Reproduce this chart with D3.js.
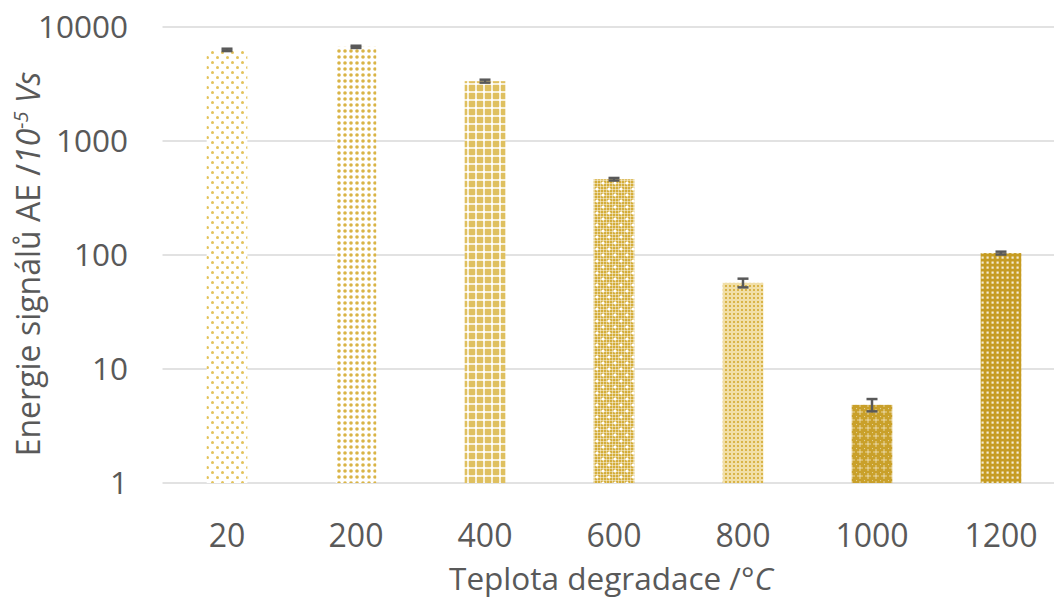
<!DOCTYPE html>
<html><head><meta charset="utf-8">
<script src="https://cdn.jsdelivr.net/npm/d3@7/dist/d3.min.js"></script>
<style>body{margin:0;background:#fff}svg{display:block}</style>
</head><body>
<svg id="c" width="1054" height="603"></svg>
<script>
const categories = ["20","200","400","600","800","1000","1200"];
const values = [6300, 6700, 3350, 462, 57, 4.85, 104];
const errors = [150, 150, 100, 12, 5, 0.6, 3];
const yTicks = [1, 10, 100, 1000, 10000];

const svg = d3.select("#c");
const W = 1054, H = 603;
const m = {left:162.5, right:1065.5, top:27, bottom:483};
const font = "'Open Sans', 'Liberation Sans', sans-serif";
const textCol = "#595959";

const x = d3.scaleBand().domain(categories).range([m.left, m.right]).paddingInner(0.685).paddingOuter(0.3425);
const y = d3.scaleLog().domain([1, 10000]).range([m.bottom, m.top]);

// patterns
const defs = svg.append("defs");
function pat(id, size, build){
  const p = defs.append("pattern").attr("id", id).attr("patternUnits","userSpaceOnUse")
    .attr("width", size).attr("height", size);
  build(p);
}
pat("p0", 10, p=>{
  p.append("rect").attr("width",10).attr("height",10).attr("fill","#fff");
  [[2.5,2.5],[7.5,7.5]].forEach(([a,b])=>p.append("circle").attr("cx",a).attr("cy",b).attr("r",1.5).attr("fill","#e3c25a"));
});
pat("p1", 6, p=>{
  p.append("rect").attr("width",6).attr("height",6).attr("fill","#fff");
  p.append("circle").attr("cx",3).attr("cy",3).attr("r",1.8).attr("fill","#d9b446");
});
pat("p2", 8, p=>{
  p.append("rect").attr("width",8).attr("height",8).attr("fill","#dfc060");
  p.append("rect").attr("x",3).attr("y",0).attr("width",2).attr("height",8).attr("fill","#fff").attr("opacity",0.75);
  p.append("rect").attr("x",0).attr("y",3).attr("width",8).attr("height",2).attr("fill","#fff").attr("opacity",0.75);
  p.append("circle").attr("cx",4).attr("cy",4).attr("r",1.4).attr("fill","#fff");
});
pat("p3", 12, p=>{
  p.append("rect").attr("width",12).attr("height",12).attr("fill","#d4ad3a");
  for(let i=0;i<12;i+=3){
    p.append("rect").attr("x",i).attr("y",0).attr("width",1).attr("height",12).attr("fill","#fff").attr("opacity",0.45);
    p.append("rect").attr("x",0).attr("y",i).attr("width",12).attr("height",1).attr("fill","#fff").attr("opacity",0.45);
  }
  [[3,3],[9,9]].forEach(([a,b])=>p.append("circle").attr("cx",a).attr("cy",b).attr("r",1.6).attr("fill","#fff"));
});
pat("p4", 4, p=>{
  p.append("rect").attr("width",4).attr("height",4).attr("fill","#f1dfa8");
  p.append("rect").attr("x",1).attr("y",1).attr("width",2).attr("height",2).attr("fill","#d9b448");
});
pat("p5", 8, p=>{
  p.append("rect").attr("width",8).attr("height",8).attr("fill","#c9a02a");
  p.append("rect").attr("x",3.5).attr("y",1).attr("width",1).attr("height",6).attr("fill","#fff").attr("opacity",0.55);
  p.append("rect").attr("x",1).attr("y",3.5).attr("width",6).attr("height",1).attr("fill","#fff").attr("opacity",0.55);
  p.append("circle").attr("cx",0).attr("cy",0).attr("r",1.2).attr("fill","#fff").attr("opacity",0.5);
});
pat("p6", 5, p=>{
  p.append("rect").attr("width",5).attr("height",5).attr("fill","#c69c22");
  p.append("rect").attr("x",1.5).attr("y",1.5).attr("width",2.2).attr("height",2.2).attr("fill","#fff").attr("opacity",0.8);
});

// gridlines
svg.append("g").selectAll("line").data(yTicks).join("line")
  .attr("x1", m.left).attr("x2", W).attr("y1", d=>y(d)).attr("y2", d=>y(d))
  .attr("stroke", "#d9d9d9").attr("stroke-width", 1.5);

// bars
svg.append("g").selectAll("rect").data(values).join("rect")
  .attr("x", (d,i)=>x(categories[i])).attr("width", x.bandwidth())
  .attr("y", d=>y(d)).attr("height", d=>y(1)-y(d))
  .attr("fill", (d,i)=>`url(#p${i})`);

// error bars
const eb = svg.append("g").attr("stroke", "#595959").attr("stroke-width", 2.5);
values.forEach((v,i)=>{
  const cx = x(categories[i]) + x.bandwidth()/2;
  const y1 = y(v+errors[i]), y2 = y(v-errors[i]);
  eb.append("line").attr("x1",cx).attr("x2",cx).attr("y1",y1).attr("y2",y2);
  eb.append("line").attr("x1",cx-5.5).attr("x2",cx+5.5).attr("y1",y1).attr("y2",y1);
  eb.append("line").attr("x1",cx-5.5).attr("x2",cx+5.5).attr("y1",y2).attr("y2",y2);
});

// y tick labels
svg.append("g").selectAll("text").data(yTicks).join("text")
  .attr("x", 128).attr("y", d=>y(d)).attr("dy","0.36em")
  .attr("text-anchor","end").attr("font-family",font).attr("font-size",31.5).attr("fill",textCol)
  .text(d=>d);

// x tick labels
svg.append("g").selectAll("text").data(categories).join("text")
  .attr("x", d=>x(d)+x.bandwidth()/2).attr("y", 547)
  .attr("text-anchor","middle").attr("font-family",font).attr("font-size",32).attr("fill",textCol)
  .text(d=>d);

// x title
const xt = svg.append("text").attr("x", 611).attr("y", 590).attr("text-anchor","middle")
  .attr("font-family",font).attr("font-size",31.5).attr("fill",textCol);
xt.append("tspan").text("Teplota degradace /");
xt.append("tspan").attr("font-style","italic").text("°C");

// y title
const yt = svg.append("text").attr("transform","translate(40,264) rotate(-90)").attr("text-anchor","middle")
  .attr("font-family",font).attr("font-size",32).attr("fill",textCol);
yt.append("tspan").text("Energie signálů AE /");
yt.append("tspan").attr("font-style","italic").text("10");
yt.append("tspan").attr("font-style","italic").attr("font-size",20).attr("dy",-12).text("-5");
yt.append("tspan").attr("font-style","italic").attr("dy",12).text(" Vs");
</script>
</body></html>
